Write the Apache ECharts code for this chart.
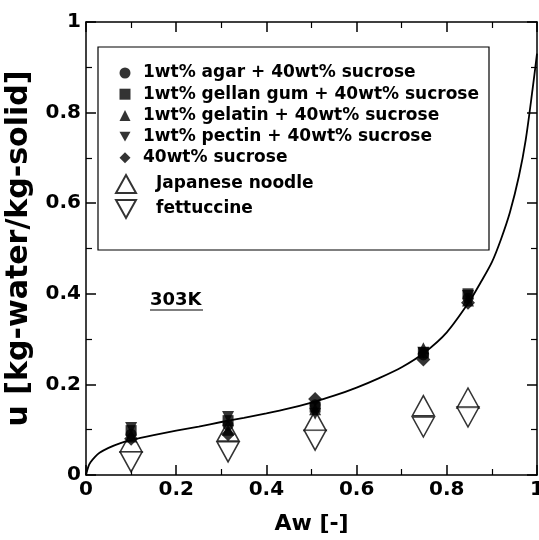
<!DOCTYPE html>
<html>
<head>
<meta charset="utf-8">
<script src="https://cdn.jsdelivr.net/npm/echarts@6/dist/echarts.min.js"></script>
<style>
  html, body { margin: 0; padding: 0; background: #fff; }
  #chart { width: 539px; height: 540px; }
</style>
</head>
<body>
<div id="chart"></div>
<script>
// Sorption isotherm at 303K

const FONT = '"DejaVu Sans", Arial, Helvetica, sans-serif';

// water activity of the salt solutions
const aw = [0.1, 0.315, 0.508, 0.748, 0.847];

// moisture content u [kg-water/kg-solid]
const agar = [0.09, 0.11, 0.155, 0.265, 0.39];
const gellan = [0.098, 0.12, 0.15, 0.27, 0.4];
const gelatin = [0.085, 0.1, 0.145, 0.28, 0.385];
const pectin = [0.104, 0.128, 0.135, 0.27, 0.395];
const sucrose = [0.08, 0.09, 0.168, 0.255, 0.38];
const noodle = [0.073, 0.097, 0.12, 0.153, 0.17];
const fettuccine = [0.029, 0.051, 0.077, 0.106, 0.128];

// fitted curve, points
const curveAw = [0, 0.005, 0.01, 0.02, 0.03, 0.05, 0.075, 0.1, 0.15, 0.2, 0.25, 0.3, 0.35, 0.4, 0.45, 0.5, 0.55, 0.6, 0.65, 0.7, 0.75, 0.8, 0.85, 0.875, 0.9, 0.92, 0.94, 0.96, 0.975, 0.99, 1.0];
const curveU = [0, 0.018, 0.028, 0.04, 0.049, 0.06, 0.07, 0.077, 0.088, 0.098, 0.107, 0.117, 0.126, 0.136, 0.147, 0.16, 0.175, 0.193, 0.214, 0.238, 0.27, 0.315, 0.383, 0.425, 0.47, 0.52, 0.58, 0.66, 0.74, 0.85, 0.93];

const NAMES = [
  '1wt% agar + 40wt% sucrose',
  '1wt% gellan gum + 40wt% sucrose',
  '1wt% gelatin + 40wt% sucrose',
  '1wt% pectin + 40wt% sucrose',
  '40wt% sucrose',
  'Japanese noodle',
  'fettuccine',
];

const UP = 'path://M10,0L20,18L0,18Z';
const DOWN = 'path://M0,0L20,0L10,18Z';

const pairs = (ys) => aw.map((x, i) => [x, ys[i]]);

function filled(name, ys, symbol, size, rotate) {
  return {
    name, type: 'scatter', data: pairs(ys),
    symbol, symbolSize: size, symbolRotate: rotate || 0,
    itemStyle: { color: '#000' }, z: 4,
  };
}

function open(name, ys, rotate) {
  return {
    name, type: 'scatter', data: pairs(ys),
    symbol: 'triangle', symbolSize: [22, 20], symbolRotate: rotate,
    itemStyle: { color: '#fff', borderColor: '#000', borderWidth: 1.5 }, z: 2,
  };
}

const tickStyle = { color: '#000', width: 1.5 };

function axis(pos, withLabels) {
  return {
    type: 'value', min: 0, max: 1, interval: 0.2, position: pos,
    axisLine: { show: true, onZero: false, lineStyle: tickStyle },
    axisTick: { show: true, inside: true, length: 10, lineStyle: tickStyle },
    minorTick: { show: true, splitNumber: 2, length: 6, lineStyle: { color: '#000', width: 1.2 } },
    splitLine: { show: false },
    minorSplitLine: { show: false },
    axisLabel: { show: withLabels, color: '#000', fontFamily: FONT, fontWeight: 'bold', fontSize: 20, hideOverlap: false },
  };
}

const xBottom = axis('bottom', true);
xBottom.axisLabel.margin = 5;
xBottom.name = 'Aw [-]';
xBottom.nameLocation = 'middle';
xBottom.nameGap = 38;
xBottom.nameTextStyle = { color: '#000', fontFamily: FONT, fontWeight: 'bold', fontSize: 22 };

const yLeft = axis('left', true);
yLeft.axisLabel.margin = 5;
yLeft.name = 'u [kg-water/kg-solid]';
yLeft.nameLocation = 'middle';
yLeft.nameGap = 41;
yLeft.nameTextStyle = { color: '#000', fontFamily: FONT, fontWeight: 'bold', fontSize: 30 };

const legendText = { color: '#000', fontFamily: FONT, fontWeight: 'bold', fontSize: 17, lineHeight: 20 };

const chart = echarts.init(document.getElementById('chart'));
chart.setOption({
  animation: false,
  backgroundColor: '#fff',
  grid: { left: 86, right: 2, top: 22, bottom: 65, outerBoundsMode: 'none' },
  xAxis: [xBottom, axis('top', false)],
  yAxis: [yLeft, axis('right', false)],
  legend: [
    {
      data: [
        { name: NAMES[0], icon: 'circle' },
        { name: NAMES[1], icon: 'rect' },
        { name: NAMES[2], icon: 'triangle' },
        { name: NAMES[3], icon: 'path://M0,0L10,0L5,9Z' },
        { name: NAMES[4], icon: 'diamond' },
      ],
      orient: 'vertical', left: 119.5, top: 63,
      itemWidth: 11, itemHeight: 11, itemGap: 1.2,
      textStyle: Object.assign({ padding: [0, 0, 0, 7.5] }, legendText),
      padding: 0,
    },
    {
      data: [
        { name: NAMES[5], icon: UP },
        { name: NAMES[6], icon: DOWN },
      ],
      orient: 'vertical', left: 115, top: 174,
      itemWidth: 20, itemHeight: 18, itemGap: 5,
      textStyle: Object.assign({ padding: [0, 0, 0, 15] }, legendText),
      padding: 0,
    },
  ],
  graphic: [
    { type: 'rect', shape: { x: 98, y: 47, width: 391, height: 203 },
      style: { fill: 'none', stroke: '#000', lineWidth: 1.2 }, z: 10 },
    { type: 'text', left: 150, top: 291,
      style: { text: '303K', fill: '#000', font: 'bold 18px ' + FONT } },
    { type: 'line', shape: { x1: 150, y1: 310, x2: 203, y2: 310 },
      style: { stroke: '#000', lineWidth: 1.2 } },
  ],
  series: [
    open(NAMES[5], noodle, 0),
    open(NAMES[6], fettuccine, 180),
    {
      name: 'fit', type: 'line', data: curveAw.map((x, i) => [x, curveU[i]]),
      showSymbol: false, smooth: 0.3,
      lineStyle: { color: '#000', width: 1.8 }, z: 3,
    },
    filled(NAMES[0], agar, 'circle', 11),
    filled(NAMES[1], gellan, 'rect', 11),
    filled(NAMES[2], gelatin, 'triangle', 12),
    filled(NAMES[3], pectin, 'triangle', 12, 180),
    filled(NAMES[4], sucrose, 'diamond', 14),
  ],
});
</script>
</body>
</html>
